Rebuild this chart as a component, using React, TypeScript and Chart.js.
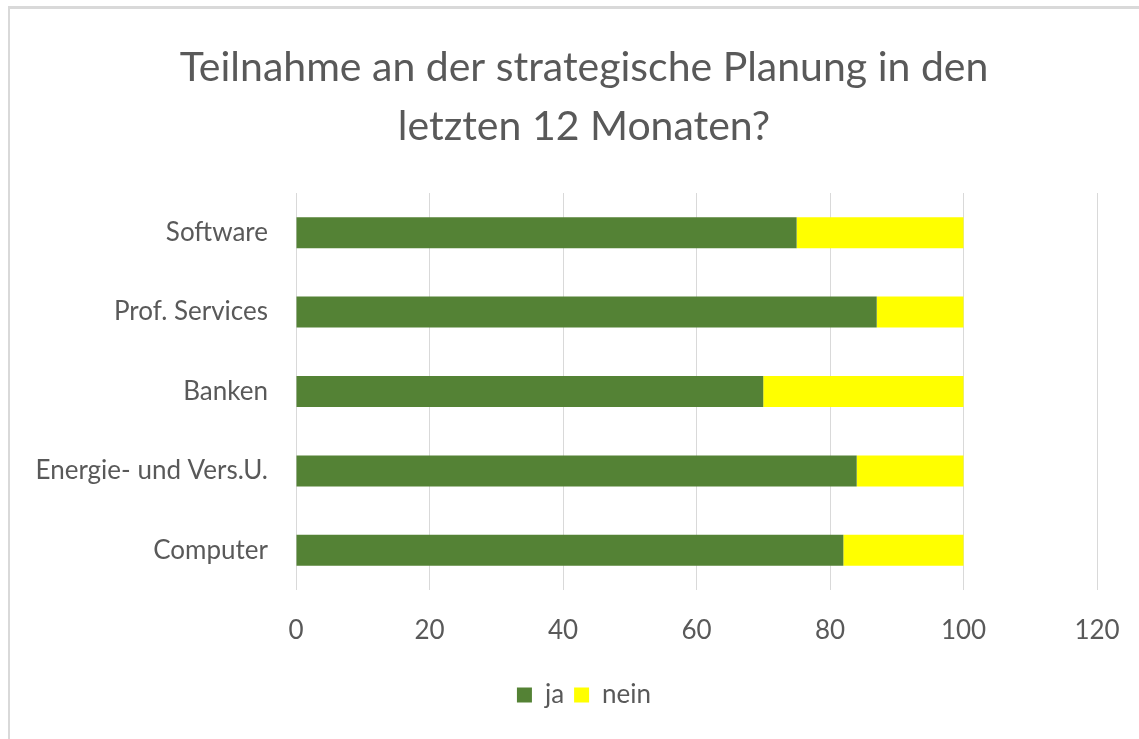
import React, { useEffect, useRef } from "react";
import { Chart, registerables } from "chart.js";

Chart.register(...registerables);

const categories = ["Software", "Prof. Services", "Banken", "Energie- und Vers.U.", "Computer"];
const jaValues = [75, 87, 70, 84, 82];
const neinValues = [25, 13, 30, 16, 18];
const seriesNames = ["ja", "nein"];
const titleLines = ["Teilnahme an der strategische Planung in den", "letzten 12 Monaten?"];
const xMin = 0;
const xMax = 120;
const xStep = 20;

const FONT = "Lato, 'Open Sans', sans-serif";
const TEXT = "#595959";

export default function App() {
  const ref = useRef<HTMLCanvasElement | null>(null);

  useEffect(() => {
    const canvas = ref.current;
    if (!canvas) return;
    const chart = new Chart(canvas, {
      type: "bar",
      data: {
        labels: categories,
        datasets: [
          {
            label: seriesNames[0],
            data: jaValues,
            backgroundColor: "#548235",
            borderWidth: 0,
          },
          {
            label: seriesNames[1],
            data: neinValues,
            backgroundColor: "#FFFF00",
            borderWidth: 0,
          },
        ],
      },
      options: {
        indexAxis: "y",
        responsive: false,
        animation: false,
        devicePixelRatio: 1,
        layout: { padding: { left: 29, right: 0, top: 0, bottom: 21 } },
        datasets: {
          bar: { categoryPercentage: 1, barPercentage: 0.39 },
        },
        scales: {
          x: {
            stacked: true,
            min: xMin,
            max: xMax,
            ticks: {
              stepSize: xStep,
              color: TEXT,
              font: { family: FONT, size: 26 },
              padding: 25,
            },
            grid: { color: "#d9d9d9", lineWidth: 1, drawTicks: false },
            border: { display: false },
            afterFit: (scale: any) => {
              scale.height = 82;
              scale.paddingRight = 42;
            },
          },
          y: {
            stacked: true,
            ticks: {
              color: TEXT,
              font: { family: FONT, size: 26 },
              padding: 28,
            },
            grid: { display: false, drawTicks: false },
            border: { display: false },
            afterFit: (scale: any) => {
              scale.width = 267;
            },
          },
        },
        plugins: {
          title: {
            display: true,
            text: titleLines,
            color: TEXT,
            font: { family: FONT, size: 41, weight: "normal", lineHeight: 59 / 41 },
            padding: { top: 38, bottom: 37 },
          },
          legend: {
            display: true,
            position: "bottom",
            labels: {
              color: TEXT,
              font: { family: FONT, size: 26 },
              boxWidth: 15,
              boxHeight: 15,
              padding: 10,
            },
          },
          tooltip: { enabled: false },
        },
      },
    });
    return () => chart.destroy();
  }, []);

  return (
    <div
      style={{
        position: "fixed",
        left: 0,
        top: 0,
        width: 1139,
        height: 739,
        background: "#ffffff",
      }}
    >
      <div
        style={{
          position: "absolute",
          left: 8,
          top: 6,
          right: 0,
          bottom: 0,
          borderTop: "3px solid #d9d9d9",
          borderLeft: "2px solid #d9d9d9",
        }}
      />
      <canvas
        ref={ref}
        width={1139}
        height={739}
        style={{ position: "absolute", left: 0, top: 0, width: 1139, height: 739 }}
      />
    </div>
  );
}
